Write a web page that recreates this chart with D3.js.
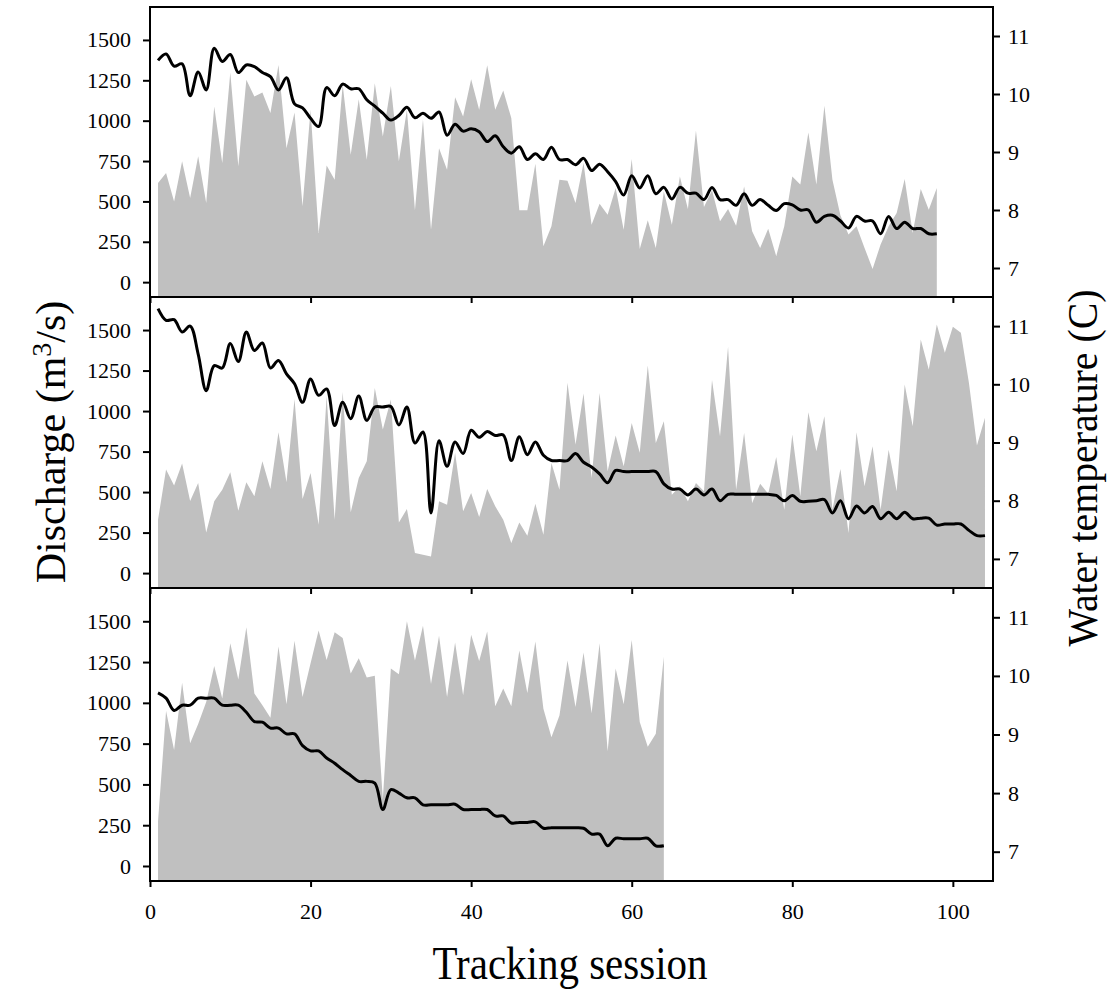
<!DOCTYPE html>
<html>
<head>
<meta charset="utf-8">
<script src="https://cdn.jsdelivr.net/npm/d3@7"></script>
<style>
    body { margin: 0; background: #fff; }
    text { font-family: "Liberation Serif", "Times New Roman", serif; fill: #000; }
</style>
</head>
<body>
<script>
// tick values for the three axes
var sessionTicks = [0, 20, 40, 60, 80, 100];
var dischargeTicks = [0, 250, 500, 750, 1000, 1250, 1500];
var tempTicks = [7, 8, 9, 10, 11];

// panel 1 : sessions 1..98
var discharge1 = [614, 676, 500, 748, 521, 779, 490, 1088, 738, 1298,
    717, 1253, 1150, 1174, 1047, 1345, 830, 1051, 470, 1067,
    305, 723, 634, 1222, 789, 1133, 758, 1232, 902, 1215,
    748, 1067, 445, 1005, 325, 830, 696, 1145, 1026, 1257,
    1067, 1343, 1067, 1187, 1016, 445, 445, 733, 222, 346,
    634, 628, 490, 738, 356, 486, 418, 583, 325, 762,
    206, 383, 212, 562, 356, 655, 453, 939, 466, 569,
    377, 453, 350, 593, 315, 212, 330, 161, 346, 655,
    604, 927, 604, 1092, 634, 412, 295, 346, 212, 82,
    233, 346, 428, 639, 305, 577, 449, 583];
var temp1 = [10.58, 10.69, 10.48, 10.52, 9.97, 10.38, 10.07, 10.79, 10.56, 10.68,
    10.37, 10.50, 10.47, 10.37, 10.30, 10.07, 10.28, 9.83, 9.76, 9.58,
    9.44, 10.11, 9.97, 10.17, 10.09, 10.09, 9.90, 9.79, 9.67, 9.55,
    9.63, 9.77, 9.59, 9.67, 9.58, 9.69, 9.29, 9.48, 9.36, 9.40,
    9.35, 9.18, 9.28, 9.09, 8.98, 9.09, 8.87, 8.97, 8.87, 9.08,
    8.87, 8.87, 8.78, 8.89, 8.68, 8.79, 8.66, 8.49, 8.26, 8.59,
    8.38, 8.59, 8.28, 8.39, 8.19, 8.39, 8.29, 8.29, 8.18, 8.39,
    8.18, 8.18, 8.08, 8.28, 8.08, 8.18, 8.08, 7.99, 8.11, 8.09,
    8.00, 8.00, 7.79, 7.89, 7.91, 7.81, 7.69, 7.89, 7.81, 7.81,
    7.59, 7.89, 7.68, 7.79, 7.68, 7.68, 7.59, 7.59];

// panel 2 : sessions 1..104
var discharge2 = [330, 639, 540, 676, 445, 556, 251, 443, 515, 622,
    385, 560, 474, 690, 519, 869, 560, 1075, 457, 618,
    299, 1092, 330, 1117, 375, 587, 690, 1143, 886, 1071,
    313, 396, 124, 113, 103, 443, 422, 742, 381, 494,
    346, 519, 412, 330, 185, 313, 231, 428, 237, 680,
    515, 1174, 793, 1108, 587, 1112, 628, 849, 659, 927,
    742, 1281, 803, 937, 484, 536, 443, 556, 505, 1191,
    845, 1397, 515, 865, 433, 552, 490, 717, 391, 855,
    474, 993, 752, 968, 391, 643, 247, 869, 536, 783,
    391, 762, 505, 1164, 906, 1442, 1257, 1535, 1360, 1520,
    1483, 1174, 787, 958];
var temp2 = [11.30, 11.10, 11.11, 10.90, 11.00, 10.52, 9.89, 10.32, 10.28, 10.70,
    10.39, 10.90, 10.58, 10.71, 10.28, 10.41, 10.18, 10.01, 9.69, 10.09,
    9.81, 9.92, 9.29, 9.69, 9.41, 9.80, 9.38, 9.61, 9.61, 9.62,
    9.30, 9.61, 8.99, 9.18, 7.79, 9.03, 8.59, 9.01, 8.81, 9.21,
    9.09, 9.19, 9.12, 9.13, 8.69, 9.10, 8.79, 9.01, 8.78, 8.69,
    8.69, 8.69, 8.81, 8.66, 8.58, 8.46, 8.31, 8.52, 8.50, 8.50,
    8.50, 8.50, 8.50, 8.29, 8.20, 8.20, 8.10, 8.20, 8.10, 8.20,
    8.00, 8.11, 8.11, 8.11, 8.11, 8.11, 8.11, 8.09, 8.00, 8.09,
    7.99, 7.99, 8.00, 8.02, 7.79, 8.00, 7.69, 7.91, 7.79, 7.90,
    7.69, 7.80, 7.69, 7.80, 7.69, 7.70, 7.70, 7.58, 7.60, 7.60,
    7.60, 7.49, 7.40, 7.40];

// panel 3 : sessions 1..64
var discharge3 = [274, 950, 711, 1123, 752, 871, 1005, 1226, 1026, 1366,
    1143, 1463, 1057, 985, 909, 1345, 991, 1380, 1036, 1242,
    1444, 1263, 1432, 1397, 1180, 1273, 1156, 1166, 408, 1211,
    1176, 1500, 1259, 1473, 1115, 1411, 1036, 1370, 1047, 1417,
    1257, 1438, 979, 1088, 979, 1321, 1061, 1376, 964, 789,
    923, 1259, 974, 1308, 937, 1366, 703, 1211, 991, 1386,
    882, 731, 810, 1283];
var temp3 = [9.71, 9.62, 9.41, 9.50, 9.50, 9.62, 9.62, 9.62, 9.50, 9.50,
    9.50, 9.38, 9.22, 9.21, 9.11, 9.11, 9.01, 9.01, 8.81, 8.72,
    8.72, 8.60, 8.51, 8.40, 8.30, 8.20, 8.20, 8.17, 7.72, 8.06,
    8.00, 7.92, 7.92, 7.80, 7.80, 7.80, 7.80, 7.81, 7.72, 7.72,
    7.72, 7.72, 7.61, 7.61, 7.49, 7.50, 7.50, 7.51, 7.40, 7.41,
    7.41, 7.41, 7.41, 7.40, 7.30, 7.30, 7.10, 7.23, 7.22, 7.22,
    7.22, 7.23, 7.10, 7.10];

var width = 1107,
    height = 990,
    left = 150,
    right = 993;

var panels = [
    {top: 7, bottom: 297, discharge: discharge1, temp: temp1},
    {top: 297, bottom: 588, discharge: discharge2, temp: temp2},
    {top: 588, bottom: 881, discharge: discharge3, temp: temp3}
];

var svg = d3.select("body").append("svg")
    .attr("width", width)
    .attr("height", height);

var x = d3.scaleLinear().domain([0, 105]).range([left, right]);

panels.forEach(function(p, k) {
    var yL = d3.scaleLinear().domain([-92, 1704]).range([p.bottom, p.top]);
    var yR = d3.scaleLinear().domain([6.5, 11.5]).range([p.bottom, p.top]);

    var area = d3.area()
        .x(function(d, i) { return x(i + 1); })
        .y0(p.bottom)
        .y1(function(d) { return yL(d); });

    var line = d3.line()
        .x(function(d, i) { return x(i + 1); })
        .y(function(d) { return yR(d); })
        .curve(d3.curveCatmullRom.alpha(0.5));

    svg.append("path")
        .datum(p.discharge)
        .attr("d", area)
        .style("fill", "#c0c0c0")
        .style("stroke", "none");

    svg.append("path")
        .datum(p.temp)
        .attr("d", line)
        .style("fill", "none")
        .style("stroke", "#000")
        .style("stroke-width", 3)
        .style("stroke-linejoin", "round");

    // left axis (discharge)
    var gl = svg.append("g")
        .attr("transform", "translate(" + left + ",0)")
        .call(d3.axisLeft(yL).tickValues(dischargeTicks)
            .tickFormat(d3.format("d")).tickSize(7).tickPadding(12));

    // right axis (temperature)
    var gr = svg.append("g")
        .attr("transform", "translate(" + right + ",0)")
        .call(d3.axisRight(yR).tickValues(tempTicks)
            .tickFormat(d3.format("d")).tickSize(7).tickPadding(8));

    // bottom axis, labels only on the last panel
    var xAxis = d3.axisBottom(x).tickValues(sessionTicks).tickSize(6).tickPadding(16);
    if (k < panels.length - 1) xAxis.tickFormat("");
    var gb = svg.append("g")
        .attr("transform", "translate(0," + p.bottom + ")")
        .call(xAxis);

    [gl, gr, gb].forEach(function(g) {
        g.select(".domain").remove();
        g.selectAll(".tick line").style("stroke", "#000").style("stroke-width", 2);
        g.selectAll(".tick text")
            .style("font-family", "'Liberation Serif', 'Times New Roman', serif")
            .style("font-size", "22px")
            .style("fill", "#000");
    });

    svg.append("rect")
        .attr("x", left)
        .attr("y", p.top)
        .attr("width", right - left)
        .attr("height", p.bottom - p.top)
        .style("fill", "none")
        .style("stroke", "#000")
        .style("stroke-width", 2);
});

// axis titles
var yTitle = svg.append("text")
    .attr("transform", "translate(65,442) rotate(-90)")
    .attr("text-anchor", "middle")
    .style("font-size", "42px");
yTitle.append("tspan").text("Discharge (m");
yTitle.append("tspan").attr("dy", "-14").style("font-size", "28px").text("3");
yTitle.append("tspan").attr("dy", "14").text("/s)");

svg.append("text")
    .attr("transform", "translate(1097,468) rotate(-90)")
    .attr("text-anchor", "middle")
    .attr("textLength", 357)
    .attr("lengthAdjust", "spacingAndGlyphs")
    .style("font-size", "43px")
    .text("Water temperature (C)");

svg.append("text")
    .attr("x", 570)
    .attr("y", 979)
    .attr("text-anchor", "middle")
    .attr("textLength", 275)
    .attr("lengthAdjust", "spacingAndGlyphs")
    .style("font-size", "46px")
    .text("Tracking session");
</script>
</body>
</html>
